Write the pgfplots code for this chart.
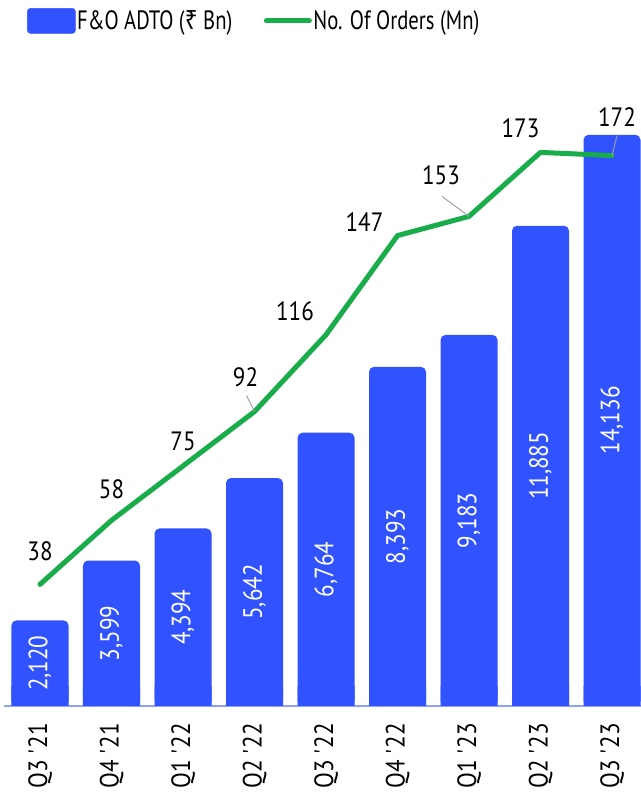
\documentclass[border=0pt]{standalone}
\usepackage{fontspec}
\setmainfont{PT Sans}[FakeStretch=0.87]
\newfontfamily\legfont{PT Sans}[FakeStretch=0.78]
\newfontfamily\rupeefont{Noto Sans}[FakeStretch=0.85]
\usepackage{pgfplots}
\usepackage{pgfplotstable}
\pgfplotsset{compat=1.18}
\definecolor{barblue}{RGB}{49,82,255}
\definecolor{lineg}{RGB}{24,173,74}
\definecolor{baseblue}{RGB}{140,160,255}
\definecolor{leadgray}{RGB}{160,160,160}

\pgfplotstableread{
x v lab n
0 2120 2,120 38
1 3599 3,599 58
2 4394 4,394 75
3 5642 5,642 92
4 6764 6,764 116
5 8393 8,393 147
6 9183 9,183 153
7 11885 11,885 173
8 14136 14,136 172
}\datatable

\newcommand{\fs}{\fontsize{26.5bp}{30bp}\selectfont}
\newcommand{\ap}{\textquotesingle}

\begin{document}
\begin{tikzpicture}[x=1bp,y=1bp]
\path[use as bounding box] (0,0) rectangle (641,794);
% bars
\begin{axis}[
  at={(4.25bp,88bp)}, anchor=south west,
  width=636.35bp, height=640bp, scale only axis,
  xmin=-0.5, xmax=8.4, ymin=0, ymax=15840,
  axis x line*=bottom, axis y line=none,
  x axis line style={-, baseblue, line width=1.5bp},
  xtick={0,...,8}, major tick length=0pt,
  xticklabels={Q3 \ap21,Q4 \ap21,Q1 \ap22,Q2 \ap22,Q3 \ap22,Q4 \ap22,Q1 \ap23,Q2 \ap23,Q3 \ap23},
  xticklabel style={rotate=90, anchor=east, inner sep=0pt, font=\fs, xshift=-17bp},
  clip=false,
]
\addplot[ybar, bar width=57bp, bar shift=0pt, fill=barblue, draw=none, rounded corners=5bp] table[x=x, y=v] {\datatable};
\addplot[ybar, bar width=57bp, bar shift=0pt, fill=barblue, draw=none] coordinates {(0,500) (1,500) (2,500) (3,500) (4,500) (5,500) (6,500) (7,500) (8,500)};
\addplot[draw=none, mark=none, nodes near coords, point meta=explicit symbolic,
  nodes near coords style={rotate=90, anchor=center, text=white, font=\fs}]
  table[x=x, y expr=\thisrow{v}/2, meta=lab] {\datatable};
\end{axis}
% line
\begin{axis}[
  at={(4.25bp,88bp)}, anchor=south west,
  width=636.35bp, height=640bp, scale only axis,
  xmin=-0.5, xmax=8.4, ymin=0, ymax=200,
  hide axis, clip=false,
  legend columns=2,
  legend style={at={(0.0357,1.0705)}, anchor=west, draw=none, fill=none,
    inner sep=0pt, font=\fs\legfont, nodes={inner sep=1.5bp},
    /tikz/every even column/.append style={column sep=30bp}},
]
\addlegendimage{legend image code/.code={\fill[barblue, rounded corners=3bp] (0bp,-12.5bp) rectangle (48bp,12.5bp);}}
\addlegendentry{F\&O ADTO ({\rupeefont ₹} Bn)}
\addplot[lineg, line width=5bp, line join=round, line cap=round,
  legend image code/.code={\draw[lineg, line width=5bp, line cap=round] (2bp,0) -- (45bp,0);}]
  table[x=x, y=n] {\datatable};
\addlegendentry{No. Of Orders (Mn)}
\draw[leadgray, line width=1bp] (axis cs:3,92) ++(-8bp,16bp) -- (axis cs:3,92);
\draw[leadgray, line width=1bp] (axis cs:6,153) ++(-27bp,20bp) -- (axis cs:6,153);
\draw[leadgray, line width=1bp] (axis cs:8,172) ++(5bp,20bp) -- (axis cs:8,172);
\node[font=\fs] at (axis cs:0,38) [xshift=0bp, yshift=33bp] {38};
\node[font=\fs] at (axis cs:1,58) [xshift=0bp, yshift=31bp] {58};
\node[font=\fs] at (axis cs:2,75) [xshift=0bp, yshift=25bp] {75};
\node[font=\fs] at (axis cs:3,92) [xshift=-9bp, yshift=34bp] {92};
\node[font=\fs] at (axis cs:4,116) [xshift=-31bp, yshift=24bp] {116};
\node[font=\fs] at (axis cs:5,147) [xshift=-33bp, yshift=14bp] {147};
\node[font=\fs] at (axis cs:6,153) [xshift=-28bp, yshift=41bp] {153};
\node[font=\fs] at (axis cs:7,173) [xshift=-20bp, yshift=24bp] {173};
\node[font=\fs] at (axis cs:8,172) [xshift=5bp, yshift=39bp] {172};
\end{axis}
\end{tikzpicture}
\end{document}
